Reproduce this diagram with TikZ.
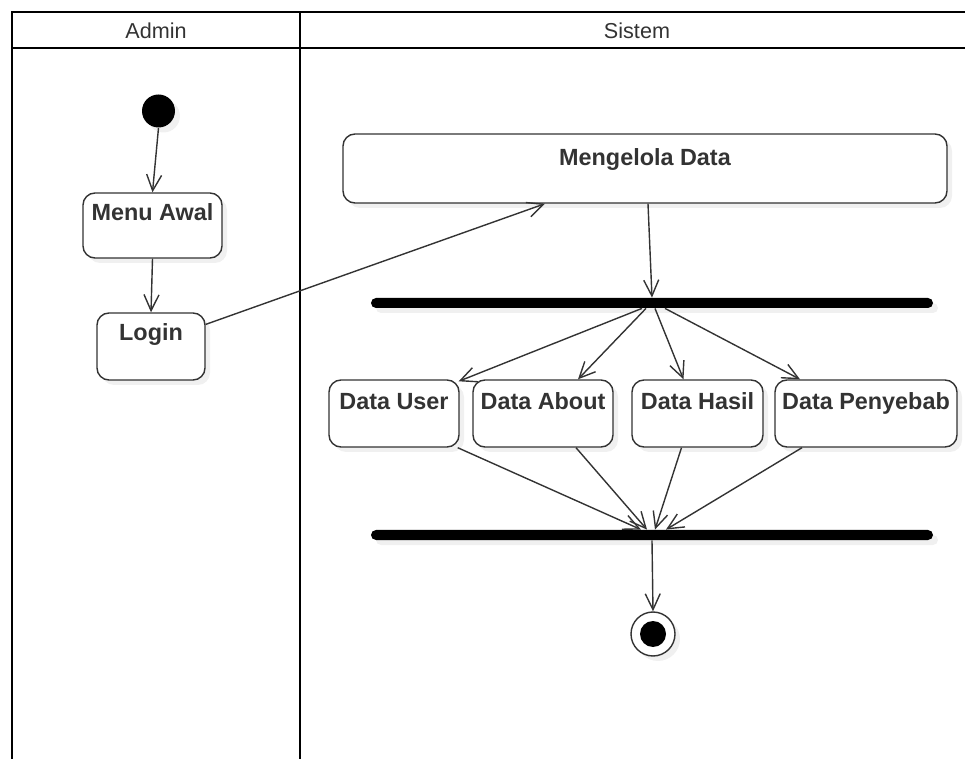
\documentclass[tikz,border=0pt]{standalone}
\usepackage{fontspec}
\setmainfont{Liberation Sans}
\usetikzlibrary{arrows.meta,shadows,calc}

\definecolor{ink}{HTML}{333333}

\begin{document}
\begin{tikzpicture}[x=0.5pt,y=-0.5pt,
  lane/.style={line width=1.4pt, draw=black},
  hdr/.style={inner sep=0pt, text=ink, font=\fontsize{10.8}{13}\selectfont},
  soft/.style={drop shadow={shadow xshift=2.5pt, shadow yshift=-2.5pt, opacity=0.12}},
  act/.style={draw=ink, line width=0.7pt, rounded corners=6pt, fill=white,
    inner sep=0pt, text=ink, font=\bfseries\fontsize{11.7}{14}\selectfont,
    text height=14.75pt, text depth=18.75pt, soft},
  syncbar/.style={fill=black, rounded corners=2.5pt, inner sep=0pt,
    minimum width=281pt, minimum height=5pt, soft},
  initial/.style={circle, fill=black, inner sep=0pt, minimum size=16.5pt, soft},
  final/.style={circle, draw=ink, line width=0.7pt, fill=white, inner sep=0pt,
    minimum size=22pt, soft,
    path picture={\fill[black] (path picture bounding box.center) circle (6.5pt);}},
  flow/.style={draw=ink, line width=0.7pt, -{Straight Barb[length=8pt,width=7.5pt]}},
]
\useasboundingbox (0,0) rectangle (965,759);

% swimlane frame
\draw[lane] (12,759) -- (12,12) -- (965,12);
\draw[lane] (12,48) -- (965,48);
\draw[lane] (300,12) -- (300,759);
\node[hdr] (admin) at (156,31) {Admin};
\node[hdr] (sistem) at (637,31) {Sistem};

% Admin lane
\node[initial] (start) at (158.5,111) {};
\node[act, minimum width=69.5pt, text height=13.75pt, text depth=18.75pt] (menu) at (152.5,225.5) {Menu Awal};
\node[act, minimum width=54pt, text height=13.75pt, text depth=19.75pt] (login) at (151,346.5) {Login};

% Sistem lane
\node[act, minimum width=302pt, text height=15.75pt, text depth=18.75pt] (kelola) at (645,168.5) {Mengelola Data};
\node[syncbar] (fork) at (652,303) {};
\node[act, minimum width=65pt] (user) at (394,413.5) {Data User};
\node[act, minimum width=70pt] (about) at (543,413.5) {Data About};
\node[act, minimum width=65.5pt] (hasil) at (697.5,413.5) {Data Hasil};
\node[act, minimum width=91pt] (penyebab) at (866,413.5) {Data Penyebab};
\node[syncbar] (join) at (652,535) {};
\node[final] (end) at (653,634) {};

% control flow
\draw[flow] (start.south) -- (menu.north);
\draw[flow] (menu.south) -- (login.north);
\draw[flow] (login.22) -- ($(kelola.south)+(-100,0)$);
\draw[flow] ($(kelola.south)+(3,0)$) -- (fork.north);

\draw[flow] ($(fork.south)+(-10,0)$) -- ($(user.north east)+(-1,2)$);
\draw[flow] ($(fork.south)+(-6,0)$) -- ($(about.north)+(35,0)$);
\draw[flow] ($(fork.south)+(3,0)$) -- ($(hasil.north)+(-14,0)$);
\draw[flow] ($(fork.south)+(13,0)$) -- ($(penyebab.north)+(-66,0)$);

\draw[flow] ($(user.south east)+(-2,0)$) -- ($(join.north)+(-11,0)$);
\draw[flow] ($(about.south)+(33,0)$) -- ($(join.north)+(-5,0)$);
\draw[flow] ($(hasil.south)+(-16,0)$) -- ($(join.north)+(3,0)$);
\draw[flow] ($(penyebab.south)+(-64,0)$) -- ($(join.north)+(14,0)$);

\draw[flow] (join.south) -- (end.north);
\end{tikzpicture}
\end{document}
